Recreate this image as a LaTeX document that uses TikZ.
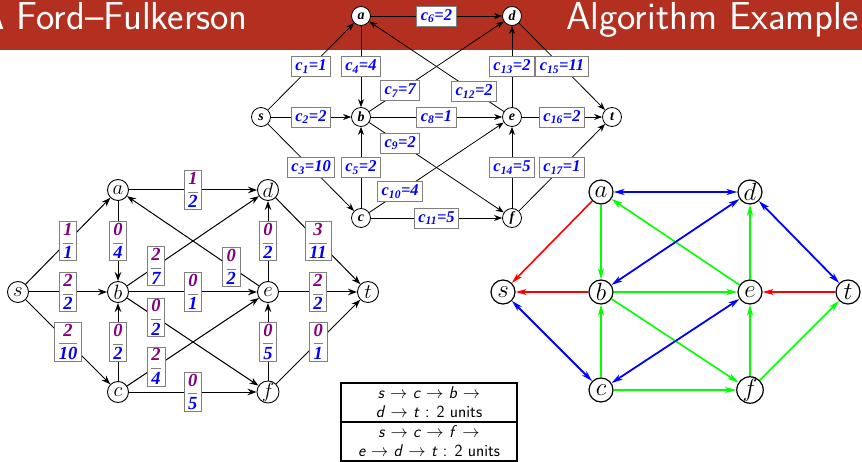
\documentclass[tikz,border=0pt]{standalone}
\usepackage{fontspec}
\newfontfamily\lblfont{Liberation Serif}
\usetikzlibrary{arrows.meta, positioning}
\definecolor{titlered}{RGB}{179,48,32}
\definecolor{flowpurple}{RGB}{128,0,128}
\definecolor{capblue}{RGB}{0,0,255}
\definecolor{resgreen}{RGB}{0,255,0}
\definecolor{resred}{RGB}{255,0,0}
\definecolor{resblue}{RGB}{0,0,255}

% capacity label c_i=k
\newcommand{\capl}[2]{c\textsubscript{#1}=#2}
% flow over capacity
\newcommand{\flo}[2]{$\displaystyle\color{gray}\frac{\textcolor{flowpurple}{\hbox{#1}}}{\textcolor{capblue}{\hbox{#2}}}$}

\tikzset{
  topv/.style={circle, draw, fill=white, line width=0.8pt, inner sep=0pt, minimum size=19pt,
    font=\fontsize{14}{14}\lblfont\bfseries\itshape},
  flowv/.style={circle, draw, fill=white, line width=0.9pt, inner sep=0pt, minimum size=21pt,
    font=\fontsize{20}{20}\selectfont},
  resv/.style={circle, draw, fill=white, line width=1.2pt, inner sep=0pt, minimum size=24pt,
    font=\fontsize{24}{24}\selectfont},
  tedge/.style={line width=0.8pt, -{Stealth[length=8pt, width=6pt]}},
  fedge/.style={line width=1pt, -{Stealth[length=9pt, width=6.5pt]}},
  capbox/.style={draw=gray, fill=white, line width=0.8pt, inner xsep=4pt, inner ysep=2pt,
    minimum height=20pt, text=capblue, font=\fontsize{16.5}{16.5}\lblfont\bfseries\itshape},
  flobox/.style={draw=gray, fill=white, line width=0.8pt, inner xsep=3pt, inner ysep=1.5pt,
    font=\fontsize{18.5}{18.5}\lblfont\bfseries\itshape},
  resarr/.style={line width=1.6pt, -{Stealth[length=11pt, width=6pt, inset=3pt]}},
  resboth/.style={line width=1.8pt, {Stealth[length=11pt, width=6pt, inset=3pt]}-{Stealth[length=11pt, width=6pt, inset=3pt]}},
  pathbox/.style={minimum width=176pt, minimum height=39pt, inner sep=0pt, align=center,
    font=\fontsize{17}{19}\sffamily},
}

\begin{document}
\begin{tikzpicture}[x=1pt, y=-1pt]
  \useasboundingbox (0,0) rectangle (862,462);

  % title bar
  \fill[titlered] (0,0) rectangle (862,50);
  \node[anchor=base east, inner sep=0pt, text=white, font=\fontsize{39}{39}\sffamily] (ttl1) at (248,30) {A Ford--Fulkerson};
  \node[anchor=base west, inner sep=0pt, text=white, font=\fontsize{39}{39}\sffamily] (ttl2) at (566,30) {Algorithm Example};

  % network with capacities
  \node[topv] (ta) at (361,16) {a};
  \node[topv] (td) at (512,16) {d};
  \node[topv] (ts) at (261,117) {s};
  \node[topv] (tb) at (361,117) {b};
  \node[topv] (te) at (512,117) {e};
  \node[topv] (tt) at (612,117) {t};
  \node[topv] (tc) at (361,218) {c};
  \node[topv] (tf) at (512,218) {f};

  \draw[tedge] (ts) -- node[capbox] {\capl{1}{1}} (ta);
  \draw[tedge] (ts) -- node[capbox] {\capl{2}{2}} (tb);
  \draw[tedge] (ts) -- node[capbox] {\capl{3}{10}} (tc);
  \draw[tedge] (ta) -- node[capbox] {\capl{4}{4}} (tb);
  \draw[tedge] (tc) -- node[capbox] {\capl{5}{2}} (tb);
  \draw[tedge] (ta) -- node[capbox] {\capl{6}{2}} (td);
  \draw[tedge] (tb) -- node[capbox, pos=.23] {\capl{7}{7}} (td);
  \draw[tedge] (tb) -- node[capbox] {\capl{8}{1}} (te);
  \draw[tedge] (tb) -- node[capbox, pos=.23] {\capl{9}{2}} (tf);
  \draw[tedge] (tc) -- node[capbox, pos=.23] {\capl{10}{4}} (te);
  \draw[tedge] (tc) -- node[capbox] {\capl{11}{5}} (tf);
  \draw[tedge] (te) -- node[capbox, pos=.22] {\capl{12}{2}} (ta);
  \draw[tedge] (te) -- node[capbox] {\capl{13}{2}} (td);
  \draw[tedge] (tf) -- node[capbox] {\capl{14}{5}} (te);
  \draw[tedge] (td) -- node[capbox] {\capl{15}{11}} (tt);
  \draw[tedge] (te) -- node[capbox] {\capl{16}{2}} (tt);
  \draw[tedge] (tf) -- node[capbox] {\capl{17}{1}} (tt);

  % flow after two augmenting paths
  \node[flowv] (fa) at (118,190) {$a$};
  \node[flowv] (fd) at (268,190) {$d$};
  \node[flowv] (fs) at (18,292) {$s$};
  \node[flowv] (fb) at (118,292) {$b$};
  \node[flowv] (fe) at (268,292) {$e$};
  \node[flowv] (ft) at (368,292) {$t$};
  \node[flowv] (fc) at (118,392) {$c$};
  \node[flowv] (ff) at (268,392) {$f$};

  \draw[fedge] (fs) -- node[flobox] {\flo{1}{1}} (fa);
  \draw[fedge] (fs) -- node[flobox] {\flo{2}{2}} (fb);
  \draw[fedge] (fs) -- node[flobox] {\flo{2}{10}} (fc);
  \draw[fedge] (fa) -- node[flobox] {\flo{0}{4}} (fb);
  \draw[fedge] (fc) -- node[flobox] {\flo{0}{2}} (fb);
  \draw[fedge] (fa) -- node[flobox] {\flo{1}{2}} (fd);
  \draw[fedge] (fb) -- node[flobox, pos=.22] {\flo{2}{7}} (fd);
  \draw[fedge] (fb) -- node[flobox] {\flo{0}{1}} (fe);
  \draw[fedge] (fb) -- node[flobox, pos=.22] {\flo{0}{2}} (ff);
  \draw[fedge] (fc) -- node[flobox, pos=.22] {\flo{2}{4}} (fe);
  \draw[fedge] (fc) -- node[flobox] {\flo{0}{5}} (ff);
  \draw[fedge] (fe) -- node[flobox, pos=.21] {\flo{0}{2}} (fa);
  \draw[fedge] (fe) -- node[flobox] {\flo{0}{2}} (fd);
  \draw[fedge] (ff) -- node[flobox] {\flo{0}{5}} (fe);
  \draw[fedge] (fd) -- node[flobox] {\flo{3}{11}} (ft);
  \draw[fedge] (fe) -- node[flobox] {\flo{2}{2}} (ft);
  \draw[fedge] (ff) -- node[flobox] {\flo{0}{1}} (ft);

  % residual network
  \node[resv] (ra) at (601,192) {$a$};
  \node[resv] (rd) at (750,192) {$d$};
  \node[resv] (rs) at (503,292) {$s$};
  \node[resv] (rb) at (601,292) {$b$};
  \node[resv] (re) at (750,292) {$e$};
  \node[resv] (rt) at (848,292) {$t$};
  \node[resv] (rc) at (601,390) {$c$};
  \node[resv] (rf) at (750,390) {$f$};

  \draw[resarr, resred] (ra) -- (rs);
  \draw[resarr, resred] (rb) -- (rs);
  \draw[resarr, resred] (rt) -- (re);

  \draw[resarr, resgreen] (ra) -- (rb);
  \draw[resarr, resgreen] (rc) -- (rb);
  \draw[resarr, resgreen] (re) -- (ra);
  \draw[resarr, resgreen] (rb) -- (re);
  \draw[resarr, resgreen] (rb) -- (rf);
  \draw[resarr, resgreen] (rc) -- (rf);
  \draw[resarr, resgreen] (re) -- (rd);
  \draw[resarr, resgreen] (rf) -- (re);
  \draw[resarr, resgreen] (rf) -- (rt);

  \draw[resboth, resblue] (rs) -- (rc);
  \draw[resboth, resblue] (ra) -- (rd);
  \draw[resboth, resblue] (rb) -- (rd);
  \draw[resboth, resblue] (rc) -- (re);
  \draw[resboth, resblue] (rd) -- (rt);

  % augmenting paths
  \node[pathbox] (p1) at (429,402.5) {\textit{s} $\rightarrow$ \textit{c} $\rightarrow$ \textit{b} $\rightarrow$\\ \textit{d} $\rightarrow$ \textit{t} : 2 units};
  \node[pathbox] (p2) at (429,441.5) {\textit{s} $\rightarrow$ \textit{c} $\rightarrow$ \textit{f} $\rightarrow$\\ \textit{e} $\rightarrow$ \textit{d} $\rightarrow$ \textit{t} : 2 units};
  \draw[line width=2.4pt] (p1.north west) rectangle (p2.south east);
  \draw[line width=1.8pt] (p1.south west) -- (p1.south east);

\end{tikzpicture}
\end{document}
